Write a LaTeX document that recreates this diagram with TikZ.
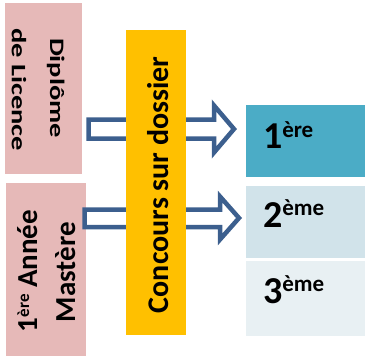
\documentclass[tikz,border=0pt]{standalone}
\usepackage{fontspec}
\setmainfont{Carlito}
\usepackage{graphicx}
\definecolor{pinkbox}{HTML}{E6B9B8}
\definecolor{orangebox}{HTML}{FFC000}
\definecolor{tealA}{HTML}{4BACC6}
\definecolor{tealB}{HTML}{D1E3EA}
\definecolor{tealC}{HTML}{E8F0F3}
\definecolor{arrowblue}{HTML}{3C5F8E}
\begin{document}
\begin{tikzpicture}[x=1pt,y=-1pt,
  box/.style={rectangle,inner sep=0pt,outer sep=0pt,draw=none},
  rbox/.style={rectangle,inner sep=0pt,outer sep=0pt,draw=white,line width=0.8pt,minimum width=120pt},
  blockarrow/.style={draw=arrowblue,fill=white,line width=4.5pt,miter limit=10},
  lbl/.style={inner sep=0pt,outer sep=0pt,font=\bfseries}
]
\useasboundingbox (0,0) rectangle (366,357);
% left boxes
\node[box,fill=pinkbox,minimum width=77pt,minimum height=171pt] (dipl) at (43.5,88.5) {};
\node[box,fill=pinkbox,minimum width=80pt,minimum height=173pt] (mast) at (46,269.5) {};
% right boxes
\node[rbox,fill=tealA,minimum height=73pt] (y1) at (305,140.5) {};
\node[rbox,fill=tealB,minimum height=73pt] (y2) at (305,221.5) {};
\node[rbox,fill=tealC,minimum height=76pt] (y3) at (305,298) {};
% block arrows
\draw[blockarrow] (88.5,119.5) -- (214,119.5) -- (214,105.5) -- (234,129) -- (214,152.5) -- (214,138.5) -- (88.5,138.5) -- cycle;
\draw[blockarrow] (84.5,209.5) -- (220,209.5) -- (220,196.5) -- (239,218) -- (220,239.5) -- (220,227) -- (84.5,227) -- cycle;
% orange box
\node[box,fill=orangebox,minimum width=60pt,minimum height=305pt] (conc) at (156,182.5) {};
% texts
\node[lbl,rotate=-90,anchor=base west] (t1a) at (50,38) {\scalebox{1}[0.72]{\fontsize{28.5}{28.5}\selectfont Diplôme}};
\node[lbl,rotate=-90,anchor=base west] (t1b) at (12,28) {\scalebox{1}[0.72]{\fontsize{28.5}{28.5}\selectfont de Licence}};
\node[lbl,rotate=90,anchor=base west] (t2a) at (37,332) {\fontsize{29}{29}\selectfont 1\raisebox{8pt}{\fontsize{17}{17}\selectfont ère} Année};
\node[lbl,rotate=90,anchor=base west] (t2b) at (75,322) {\fontsize{29}{29}\selectfont Mastère};
\node[lbl,rotate=90,anchor=base west] (tc) at (168,313) {\fontsize{30}{30}\selectfont Concours sur dossier};
\node[lbl,anchor=base west] (n1) at (263,148) {\fontsize{38}{38}\selectfont 1\raisebox{11pt}{\fontsize{23}{23}\selectfont ère}};
\node[lbl,anchor=base west] (n2) at (263,227) {\fontsize{38}{38}\selectfont 2\raisebox{12pt}{\fontsize{23}{23}\selectfont ème}};
\node[lbl,anchor=base west] (n3) at (263,303) {\fontsize{38}{38}\selectfont 3\raisebox{12pt}{\fontsize{23}{23}\selectfont ème}};
\end{tikzpicture}
\end{document}
